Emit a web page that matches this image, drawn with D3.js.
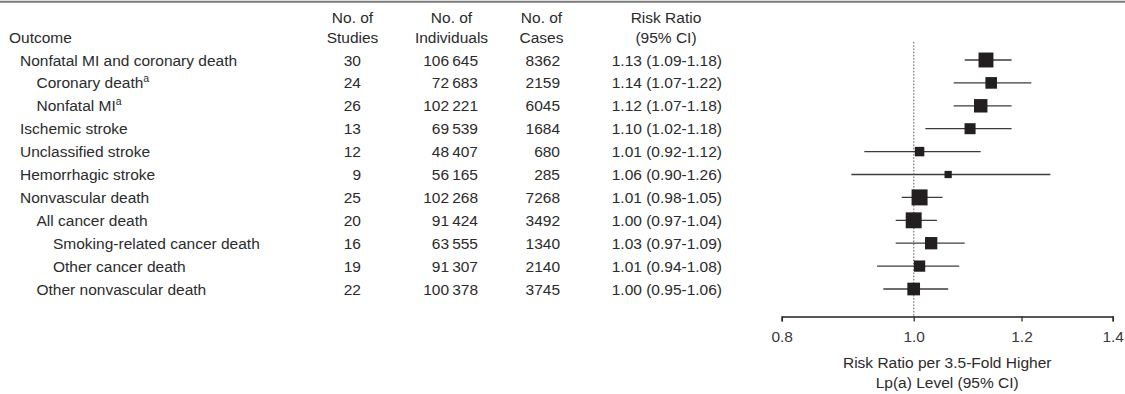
<!DOCTYPE html>
<html>
<head>
<meta charset="utf-8">
<script src="https://cdn.jsdelivr.net/npm/d3@7"></script>
<style>
  html, body { margin: 0; padding: 0; background: #fff; }
  svg { display: block; font-family: "Liberation Sans", Arial, Helvetica, sans-serif; }
</style>
</head>
<body>
<svg id="chart" width="1125" height="394"></svg>
<script>
// Outcomes and their nesting level in the table
const outcomes = [
  "Nonfatal MI and coronary death",
  "Coronary death",
  "Nonfatal MI",
  "Ischemic stroke",
  "Unclassified stroke",
  "Hemorrhagic stroke",
  "Nonvascular death",
  "All cancer death",
  "Smoking-related cancer death",
  "Other cancer death",
  "Other nonvascular death"
];
const levels = [0, 1, 1, 0, 0, 0, 0, 1, 2, 2, 1];
const footnotes = ["", "a", "a", "", "", "", "", "", "", "", ""];

// Table columns
const studies = [30, 24, 26, 13, 12, 9, 25, 20, 16, 19, 22];
const individuals = [106645, 72683, 102221, 69539, 48407, 56165, 102268, 91424, 63555, 91307, 100378];
const cases = [8362, 2159, 6045, 1684, 680, 285, 7268, 3492, 1340, 2140, 3745];

// Risk ratios with 95% confidence limits
const riskRatio = [1.13, 1.14, 1.12, 1.10, 1.01, 1.06, 1.01, 1.00, 1.03, 1.01, 1.00];
const lowerCI = [1.09, 1.07, 1.07, 1.02, 0.92, 0.90, 0.98, 0.97, 0.97, 0.94, 0.95];
const upperCI = [1.18, 1.22, 1.18, 1.18, 1.12, 1.26, 1.05, 1.04, 1.09, 1.08, 1.06];

// Axis ticks
const xTicks = [0.8, 1.0, 1.2, 1.4];

const rows = outcomes.map((name, i) => ({
  name, level: levels[i], note: footnotes[i],
  studies: studies[i], individuals: individuals[i], cases: cases[i],
  rr: riskRatio[i], lo: lowerCI[i], hi: upperCI[i],
  // precision (inverse of the log-scale standard error) sets each square's area
  precision: 1 / (Math.log(upperCI[i] / lowerCI[i]) / (2 * 1.96))
}));

const svg = d3.select("#chart");
const textColor = "#2b2b2b";
const fontSize = 15.5;

// Rule across the top
svg.append("line")
  .attr("x1", 0).attr("x2", 1125)
  .attr("y1", 1.8).attr("y2", 1.8)
  .attr("stroke", "#7a7a7a").attr("stroke-width", 2);

// Row positions
const y = d3.scalePoint().domain(outcomes).range([60, 289]);

// Forest-plot scale (log)
const x = d3.scaleLog().domain([0.8, 1.4]).range([781.7, 1112.7]);

// Square sizes
const maxPrec = d3.max(rows, d => d.precision);
const side = d3.scaleSqrt().domain([0, maxPrec]).range([0, 16]);

// Number formatting: thin-space thousands separator for 5+ digit numbers
const locale = d3.formatLocale({ decimal: ".", thousands: "\u2009", grouping: [3], currency: ["", ""] });
const fmtThousands = locale.format(",d");
const fmtCount = n => n >= 10000 ? fmtThousands(n) : String(n);
const fmt2 = d3.format(".2f");

// Header
const header = svg.append("g")
  .attr("fill", textColor)
  .attr("font-size", fontSize);

header.append("text").attr("x", 9).attr("y", 43).text("Outcome");

const headCols = [
  { x: 352.5, lines: ["No. of", "Studies"] },
  { x: 451.5, lines: ["No. of", "Individuals"] },
  { x: 541.5, lines: ["No. of", "Cases"] },
  { x: 666, lines: ["Risk Ratio", "(95% CI)"] }
];
headCols.forEach(c => {
  c.lines.forEach((t, k) => {
    header.append("text")
      .attr("x", c.x).attr("y", 23 + k * 20)
      .attr("text-anchor", "middle")
      .text(t);
  });
});

// Table body
const body = svg.append("g")
  .attr("fill", textColor)
  .attr("font-size", fontSize);

const rowG = body.selectAll("g.row")
  .data(rows)
  .join("g")
  .attr("class", "row")
  .attr("transform", d => `translate(0,${y(d.name) + 5.5})`);

const nameText = rowG.append("text")
  .attr("x", d => 20 + d.level * 16.5);
nameText.append("tspan").text(d => d.name);
nameText.filter(d => d.note)
  .append("tspan")
  .attr("font-size", 10.5)
  .attr("dy", -6)
  .text(d => d.note);

rowG.append("text")
  .attr("x", 361).attr("text-anchor", "end")
  .text(d => d.studies);

rowG.append("text")
  .attr("x", 478).attr("text-anchor", "end")
  .text(d => fmtCount(d.individuals));

rowG.append("text")
  .attr("x", 560).attr("text-anchor", "end")
  .text(d => fmtCount(d.cases));

rowG.append("text")
  .attr("x", 722).attr("text-anchor", "end")
  .text(d => `${fmt2(d.rr)} (${fmt2(d.lo)}-${fmt2(d.hi)})`);

// Reference line at no effect
svg.append("line")
  .attr("x1", x(1)).attr("x2", x(1))
  .attr("y1", 42).attr("y2", 316)
  .attr("stroke", "#8a8a8a")
  .attr("stroke-width", 1.4)
  .attr("stroke-dasharray", "1.6,1.6");

// Confidence intervals and point estimates
const plot = svg.append("g");
plot.selectAll("line.ci")
  .data(rows)
  .join("line")
  .attr("class", "ci")
  .attr("x1", d => x(d.lo)).attr("x2", d => x(d.hi))
  .attr("y1", d => y(d.name)).attr("y2", d => y(d.name))
  .attr("stroke", "#3c3c3c")
  .attr("stroke-width", 1.3);

plot.selectAll("rect.est")
  .data(rows)
  .join("rect")
  .attr("class", "est")
  .attr("x", d => x(d.rr) - side(d.precision) / 2)
  .attr("y", d => y(d.name) - side(d.precision) / 2)
  .attr("width", d => side(d.precision))
  .attr("height", d => side(d.precision))
  .attr("fill", "#231f20");

// X axis
const axisG = svg.append("g")
  .attr("transform", "translate(0,316.5)")
  .call(d3.axisBottom(x)
    .tickValues(xTicks)
    .tickFormat(d3.format(".1f"))
    .tickSize(5)
    .tickSizeOuter(5));
axisG.select(".domain").attr("stroke", "#222").attr("stroke-width", 1.4);
axisG.selectAll(".tick line").attr("stroke", "#222").attr("stroke-width", 1.2);
axisG.selectAll(".tick text")
  .attr("font-size", fontSize)
  .attr("font-family", "Liberation Sans, Arial, sans-serif")
  .attr("fill", "#3a3a3a")
  .attr("y", 14);

// Axis title
const midX = (x.range()[0] + x.range()[1]) / 2;
["Risk Ratio per 3.5-Fold Higher", "Lp(a) Level (95% CI)"].forEach((t, k) => {
  svg.append("text")
    .attr("x", midX).attr("y", 368 + k * 20)
    .attr("text-anchor", "middle")
    .attr("font-size", fontSize)
    .attr("fill", textColor)
    .text(t);
});
</script>
</body>
</html>
